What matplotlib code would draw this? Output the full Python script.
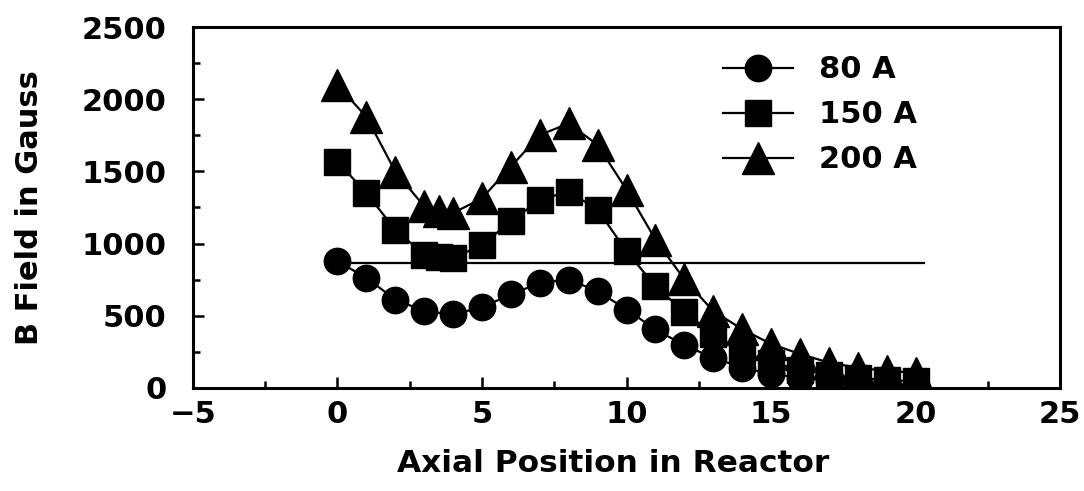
import matplotlib
matplotlib.use("Agg")
import matplotlib.pyplot as plt
from matplotlib.ticker import MultipleLocator

# axial positions along the reactor
pos_80 = [0, 1, 2, 3, 4, 5, 6, 7, 8, 9, 10, 11, 12, 13, 14, 15, 16, 17, 18, 19, 20]
pos_150 = [0, 1, 2, 3, 3.5, 4, 5, 6, 7, 8, 9, 10, 11, 12, 13, 14, 15, 16, 17, 18, 19, 20]
pos_200 = [0, 1, 2, 3, 3.5, 4, 5, 6, 7, 8, 9, 10, 11, 12, 13, 14, 15, 16, 17, 18, 19, 20]

# field in gauss for each coil current
b_80 = [877, 762, 612, 532, 509, 559, 647, 727, 750, 670, 543, 405, 295,
        209, 140, 96, 71, 50, 37, 27, 21]
b_150 = [1568, 1349, 1096, 923, 905, 897, 992, 1153, 1303, 1360, 1234, 946, 704,
         525, 373, 255, 175, 125, 92, 70, 55, 45]
b_200 = [2097, 1878, 1499, 1257, 1222, 1211, 1314, 1533, 1752, 1832, 1683, 1372,
         1027, 752, 532, 407, 304, 235, 175, 140, 117, 106]

# flat reference level drawn across the plot
ref_x = [0, 20.3]
ref_b = [865, 865]

plt.rcParams["font.family"] = "DejaVu Sans"
plt.rcParams["font.weight"] = "bold"

fig = plt.figure(figsize=(10.84, 4.91), dpi=100)
ax = fig.add_axes([0.178, 0.21, 0.800, 0.735])

ax.plot(ref_x, ref_b, color="black", lw=1.6, zorder=1)
ax.plot(pos_80, b_80, "-o", color="black", lw=1.6, ms=19, label="80 A", zorder=3)
ax.plot(pos_150, b_150, "-s", color="black", lw=1.6, ms=19, label="150 A", zorder=3)
ax.plot(pos_200, b_200, "-^", color="black", lw=1.6, ms=23, label="200 A", zorder=3)

ax.set_xlim(-5, 25)
ax.set_ylim(0, 2500)
ax.xaxis.set_major_locator(MultipleLocator(5))
ax.xaxis.set_minor_locator(MultipleLocator(2.5))
ax.yaxis.set_major_locator(MultipleLocator(500))
ax.yaxis.set_minor_locator(MultipleLocator(250))

ax.tick_params(which="both", direction="in", width=1.8, labelsize=22)
ax.tick_params(which="major", length=8)
ax.tick_params(which="minor", length=5)
ax.tick_params(axis="y", pad=19)
ax.tick_params(axis="x", pad=9)
for s in ax.spines.values():
    s.set_linewidth(2.2)

ax.set_xlabel("Axial Position in Reactor", fontsize=22.5, fontweight="bold")
ax.xaxis.set_label_coords(0.484, -0.168)
ax.set_ylabel("B Field in Gauss", fontsize=22, fontweight="bold", labelpad=27)

ax.legend(loc="upper left", bbox_to_anchor=(0.597, 0.955), frameon=False,
          borderaxespad=0, fontsize=22, handlelength=2.3, labelspacing=0.52,
          handletextpad=0.85)

fig.savefig("out.png", dpi=100)
